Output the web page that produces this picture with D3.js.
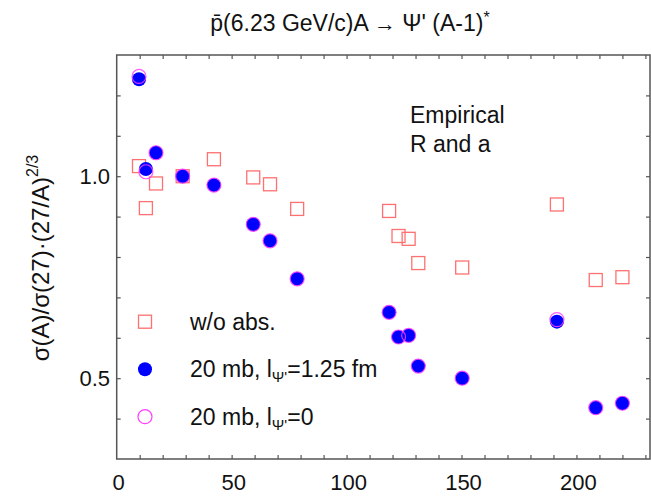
<!DOCTYPE html>
<html>
<head>
<meta charset="utf-8">
<script src="https://cdn.jsdelivr.net/npm/d3@7"></script>
<style>
html,body{margin:0;padding:0;background:#fff;}
text{font-family:"Liberation Sans",Arial,Helvetica,sans-serif;fill:#111;}
</style>
</head>
<body>
<svg id="chart" width="651" height="497"></svg>
<script>
// ---- data ----
const massNumbers = [9.7, 12.7, 17.1, 28.7, 42.3, 59.4, 66.7, 78.5, 118.5, 122.6, 127.0, 131.2, 150.3, 191.5, 208.4, 220.0];
const withoutAbs  = [1.025, 0.921, 0.982, 1.000, 1.042, 0.997, 0.980, 0.919, 0.914, 0.852, 0.845, 0.785, 0.774, 0.930, 0.743, 0.750];
const abs20mb     = [1.240, 1.018, 1.058, 1.000, 0.978, 0.881, 0.840, 0.746, 0.663, 0.602, 0.606, 0.530, 0.500, 0.640, 0.427, 0.438];
const abs20mbL0   = [1.247, 1.011, 1.058, 1.000, 0.978, 0.881, 0.840, 0.746, 0.663, 0.602, 0.606, 0.530, 0.500, 0.645, 0.427, 0.438];
const xTickLabels = [0, 50, 100, 150, 200];
const yTickLabels = [0.5, 1.0];
const legendLabels = ["w/o abs.", "20 mb, l", "20 mb, l"];

// ---- layout ----
const svg = d3.select("#chart");
const L = 116.7, R = 650, T = 55, B = 459;
const x = d3.scaleLinear().domain([0, 232]).range([L, R]);
const y = d3.scaleLinear().domain([0.3, 1.3]).range([B, T]);

const frameColor = "#555";
const tickLen = 4;

const xMinor = d3.range(10, 231, 10);
const yMinor = d3.range(0.4, 1.25, 0.1);

const axB = d3.axisBottom(x).tickValues(xMinor).tickSize(-tickLen).tickFormat("");
const axT = d3.axisTop(x).tickValues(xMinor).tickSize(-tickLen).tickFormat("");
const axL = d3.axisLeft(y).tickValues(yMinor).tickSize(-tickLen).tickFormat("");
const axR = d3.axisRight(y).tickValues(yMinor).tickSize(-tickLen).tickFormat("");

function styleAxis(g){
  g.select(".domain").remove();
  g.selectAll(".tick line").attr("stroke", frameColor).attr("stroke-width", 1.2);
}
svg.append("g").attr("transform", `translate(0,${B})`).call(axB).call(styleAxis);
svg.append("g").attr("transform", `translate(0,${T})`).call(axT).call(styleAxis);
svg.append("g").attr("transform", `translate(${L},0)`).call(axL).call(styleAxis);
svg.append("g").attr("transform", `translate(${R},0)`).call(axR).call(styleAxis);

svg.append("rect").attr("x", L).attr("y", T).attr("width", R - L).attr("height", B - T)
  .attr("fill", "none").attr("stroke", frameColor).attr("stroke-width", 1.5);

// tick labels
svg.append("g").selectAll("text").data(xTickLabels).join("text")
  .attr("x", d => x(d) + 2).attr("y", 490)
  .attr("text-anchor", "middle").attr("font-size", 22).text(d => d);
svg.append("g").selectAll("text").data(yTickLabels).join("text")
  .attr("x", 110).attr("y", d => y(d) + 8)
  .attr("text-anchor", "end").attr("font-size", 22).text(d => d.toFixed(1));

// title
const title = svg.append("text").attr("x", 350).attr("y", 31).attr("text-anchor", "middle").attr("font-size", 23);
title.append("tspan").text("p\u0304(6.23 GeV/c)A ");
title.append("tspan").attr("font-size", 22).text("\u2192");
title.append("tspan").text(" \u03A8' (A-1)");
title.append("tspan").attr("font-size", 16).attr("dy", -8).text("*");

// y label
const yl = svg.append("text").attr("transform", "translate(49,258) rotate(-90)")
  .attr("text-anchor", "middle").attr("font-size", 24);
yl.append("tspan").text("\u03C3(A)/\u03C3(27)\u00B7(27/A)");
yl.append("tspan").attr("font-size", 16).attr("dy", -11).text("2/3");

// annotation
svg.append("text").attr("x", 410).attr("y", 123).attr("font-size", 23).text("Empirical");
svg.append("text").attr("x", 410).attr("y", 152).attr("font-size", 23).text("R and a");

// ---- marks ----
const sq = 13;
const sqColor = "#ff7070";
const blue = "#0000ff";
const magenta = "#ff40ff";
const rC = 7;

const pts = massNumbers.map((a, i) => ({a, n: withoutAbs[i], b: abs20mb[i], m: abs20mbL0[i]}));

svg.append("g").selectAll("rect").data(pts).join("rect")
  .attr("x", d => x(d.a) - sq/2).attr("y", d => y(d.n) - sq/2)
  .attr("width", sq).attr("height", sq)
  .attr("fill", "none").attr("stroke", sqColor).attr("stroke-width", 1.3);

svg.append("g").selectAll("circle").data(pts).join("circle")
  .attr("cx", d => x(d.a)).attr("cy", d => y(d.b)).attr("r", rC)
  .attr("fill", blue);

svg.append("g").selectAll("circle").data(pts).join("circle")
  .attr("cx", d => x(d.a)).attr("cy", d => y(d.m)).attr("r", rC)
  .attr("fill", "none").attr("stroke", magenta).attr("stroke-width", 1.2).attr("stroke-opacity", 0.85);

// ---- legend ----
const lgX = 145, lgTx = 190;
const lgY = [321.7, 369.3, 416.7];
svg.append("rect").attr("x", lgX - sq/2).attr("y", lgY[0] - sq/2).attr("width", sq).attr("height", sq)
  .attr("fill", "none").attr("stroke", sqColor).attr("stroke-width", 1.3);
svg.append("circle").attr("cx", lgX).attr("cy", lgY[1]).attr("r", rC).attr("fill", blue);
svg.append("circle").attr("cx", lgX).attr("cy", lgY[2]).attr("r", rC)
  .attr("fill", "none").attr("stroke", magenta).attr("stroke-width", 1.2);

svg.append("text").attr("x", lgTx).attr("y", lgY[0] + 8).attr("font-size", 23).text(legendLabels[0]);
const l2 = svg.append("text").attr("x", lgTx).attr("y", lgY[1] + 8).attr("font-size", 23);
l2.append("tspan").text(legendLabels[1]);
l2.append("tspan").attr("font-size", 15).attr("dy", 5).text("\u03A8'");
l2.append("tspan").attr("dy", -5).text("=1.25 fm");
const l3 = svg.append("text").attr("x", lgTx).attr("y", lgY[2] + 8).attr("font-size", 23);
l3.append("tspan").text(legendLabels[2]);
l3.append("tspan").attr("font-size", 15).attr("dy", 5).text("\u03A8'");
l3.append("tspan").attr("dy", -5).text("=0");
</script>
</body>
</html>
